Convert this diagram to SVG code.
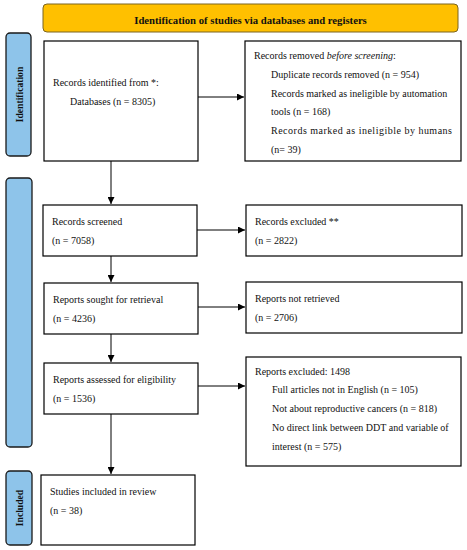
<svg xmlns="http://www.w3.org/2000/svg" width="467" height="550" viewBox="0 0 467 550">
<style>
.box{fill:#fff;stroke:#000;stroke-width:1.2}
.side{fill:#8EC4EA;stroke:#1a1a1a;stroke-width:1.3}
.hdr{fill:#FFC000;stroke:#7a6420;stroke-width:1}
.t{font-family:"Liberation Serif",serif;font-size:10px;fill:#111}
.b{font-family:"Liberation Serif",serif;font-size:9.6px;font-weight:bold;fill:#111}
.ln{stroke:#000;stroke-width:1;fill:none}
</style>
<defs>
<marker id="ah" viewBox="0 0 10 10" refX="10" refY="5" markerWidth="7" markerHeight="7" orient="auto" markerUnits="userSpaceOnUse">
<path d="M0,0 L10,5 L0,10 z" fill="#000"/>
</marker>
</defs>
<g id="header">
<rect class="hdr" x="43" y="4" width="415" height="28" rx="4"/>
<text class="b" x="250.5" y="24" text-anchor="middle" style="font-size:10.7px">Identification of studies via databases and registers</text>
</g>
<g id="label-identification">
<rect class="side" x="6" y="33" width="25" height="123" rx="4"/>
<text class="b" transform="translate(22.5,94.5) rotate(-90)" text-anchor="middle">Identification</text>
</g>
<g id="label-screening">
<rect class="side" x="6" y="178" width="26" height="269" rx="4"/>
</g>
<g id="label-included">
<rect class="side" x="6" y="471" width="26" height="74" rx="4"/>
<text class="b" transform="translate(22.5,508) rotate(-90)" text-anchor="middle">Included</text>
</g>
<g id="records-identified">
<rect class="box" x="44" y="41" width="154" height="120"/>
<text class="t" x="53" y="86">Records identified from *:</text>
<text class="t" x="70" y="105">Databases (n = 8305)</text>
</g>
<g id="records-removed">
<rect class="box" x="245" y="41" width="216" height="120"/>
<text class="t" x="254" y="59">Records removed <tspan font-style="italic">before screening</tspan>:</text>
<text class="t" x="271" y="78">Duplicate records removed (n = 954)</text>
<text class="t" x="271" y="97">Records marked as ineligible by automation</text>
<text class="t" x="271" y="115">tools (n = 168)</text>
<text class="t" x="271" y="134" textLength="181" lengthAdjust="spacing">Records marked as ineligible by humans</text>
<text class="t" x="271" y="153">(n= 39)</text>
</g>
<g id="records-screened">
<rect class="box" x="43" y="205" width="154" height="51"/>
<text class="t" x="52" y="225">Records screened</text>
<text class="t" x="52" y="244">(n = 7058)</text>
</g>
<g id="records-excluded">
<rect class="box" x="246" y="205" width="216" height="51"/>
<text class="t" x="255" y="225">Records excluded **</text>
<text class="t" x="255" y="244">(n = 2822)</text>
</g>
<g id="reports-sought">
<rect class="box" x="44" y="283" width="154" height="51"/>
<text class="t" x="53" y="303">Reports sought for retrieval</text>
<text class="t" x="53" y="322">(n = 4236)</text>
</g>
<g id="reports-not-retrieved">
<rect class="box" x="246" y="282" width="216" height="51"/>
<text class="t" x="255" y="302">Reports not retrieved</text>
<text class="t" x="255" y="321">(n = 2706)</text>
</g>
<g id="reports-assessed">
<rect class="box" x="44" y="363" width="154" height="51"/>
<text class="t" x="53" y="383">Reports assessed for eligibility</text>
<text class="t" x="53" y="402">(n = 1536)</text>
</g>
<g id="reports-excluded">
<rect class="box" x="246" y="357" width="215" height="109"/>
<text class="t" x="255" y="375">Reports excluded: 1498</text>
<text class="t" x="272" y="393">Full articles not in English (n = 105)</text>
<text class="t" x="272" y="412">Not about reproductive cancers (n = 818)</text>
<text class="t" x="272" y="431">No direct link between DDT and variable of</text>
<text class="t" x="272" y="450">interest (n = 575)</text>
</g>
<g id="studies-included">
<rect class="box" x="41" y="475" width="154" height="70"/>
<text class="t" x="50" y="495">Studies included in review</text>
<text class="t" x="50" y="514">(n = 38)</text>
</g>
<g id="connectors">
<line class="ln" x1="198" y1="97" x2="244" y2="97" marker-end="url(#ah)"/>
<line class="ln" x1="111" y1="161" x2="111" y2="204" marker-end="url(#ah)"/>
<line class="ln" x1="197" y1="230" x2="245" y2="230" marker-end="url(#ah)"/>
<line class="ln" x1="111" y1="256" x2="111" y2="282" marker-end="url(#ah)"/>
<line class="ln" x1="198" y1="307" x2="245" y2="307" marker-end="url(#ah)"/>
<line class="ln" x1="111" y1="334" x2="111" y2="362" marker-end="url(#ah)"/>
<line class="ln" x1="198" y1="386" x2="245" y2="386" marker-end="url(#ah)"/>
<line class="ln" x1="111" y1="414" x2="111" y2="474" marker-end="url(#ah)"/>
</g>
</svg>
